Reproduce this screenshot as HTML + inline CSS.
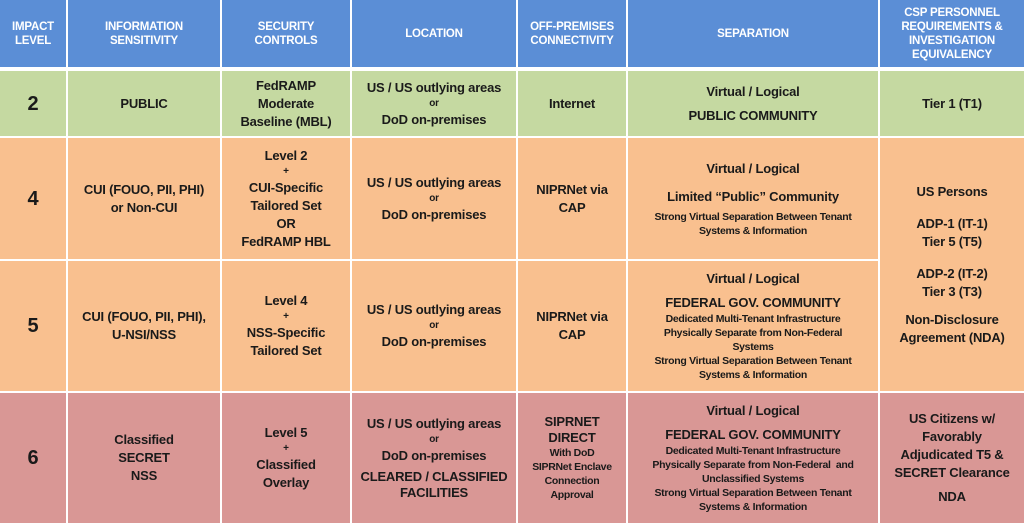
<!DOCTYPE html>
<html><head><meta charset="utf-8"><style>
body{margin:0;width:1024px;height:523px;background:#fff;overflow:hidden;font-family:"Liberation Sans",sans-serif;font-weight:bold;color:#1a1a1a}
.c{position:absolute;display:flex;flex-direction:column;align-items:center;justify-content:center;text-align:center;box-sizing:border-box;font-size:13px;line-height:18px;letter-spacing:-0.2px}
.h{background:#5b8ed6;color:#fff;font-size:11.5px;line-height:14px}
.g{background:#c5d9a1}
.o{background:#f9c08f}
.p{background:#d99795}
.s{font-size:10.5px;line-height:14px;letter-spacing:-0.3px}
.n{font-size:20px}
.sm{font-size:10px;line-height:14px}
</style></head><body>
<div class="c h" style="left:0;top:0;width:66px;height:67px">IMPACT<br>LEVEL</div>
<div class="c h" style="left:68px;top:0;width:152px;height:67px">INFORMATION<br>SENSITIVITY</div>
<div class="c h" style="left:222px;top:0;width:128px;height:67px">SECURITY<br>CONTROLS</div>
<div class="c h" style="left:352px;top:0;width:164px;height:67px">LOCATION</div>
<div class="c h" style="left:518px;top:0;width:108px;height:67px">OFF-PREMISES<br>CONNECTIVITY</div>
<div class="c h" style="left:628px;top:0;width:250px;height:67px">SEPARATION</div>
<div class="c h" style="left:880px;top:0;width:144px;height:67px">CSP PERSONNEL<br>REQUIREMENTS &amp;<br>INVESTIGATION<br>EQUIVALENCY</div>
<div class="c g n" style="left:0;top:71px;width:66px;height:65px">2</div>
<div class="c g" style="left:68px;top:71px;width:152px;height:65px">PUBLIC</div>
<div class="c g" style="left:222px;top:71px;width:128px;height:65px">FedRAMP<br>Moderate<br>Baseline (MBL)</div>
<div class="c g" style="left:352px;top:71px;width:164px;height:65px">US / US outlying areas<div class="sm">or</div>DoD on-premises</div>
<div class="c g" style="left:518px;top:71px;width:108px;height:65px">Internet</div>
<div class="c g" style="left:628px;top:71px;width:250px;height:65px">Virtual / Logical<div style="height:6px"></div>PUBLIC COMMUNITY</div>
<div class="c g" style="left:880px;top:71px;width:144px;height:65px">Tier 1 (T1)</div>
<div class="c o n" style="left:0;top:138px;width:66px;height:121px">4</div>
<div class="c o" style="left:68px;top:138px;width:152px;height:121px">CUI (FOUO, PII, PHI)<br>or Non-CUI</div>
<div class="c o" style="left:222px;top:138px;width:128px;height:121px">Level 2<div class="sm">+</div>CUI-Specific<br>Tailored Set<br>OR<br>FedRAMP HBL</div>
<div class="c o" style="left:352px;top:138px;width:164px;height:121px">US / US outlying areas<div class="sm">or</div>DoD on-premises</div>
<div class="c o" style="left:518px;top:138px;width:108px;height:121px">NIPRNet via<br>CAP</div>
<div class="c o" style="left:628px;top:138px;width:250px;height:121px">Virtual / Logical<div style="height:10px"></div>Limited “Public” Community<div style="height:4px"></div><div class="s">Strong Virtual Separation Between Tenant<br>Systems &amp; Information</div></div>
<div class="c o n" style="left:0;top:261px;width:66px;height:130px">5</div>
<div class="c o" style="left:68px;top:261px;width:152px;height:130px">CUI (FOUO, PII, PHI),<br>U-NSI/NSS</div>
<div class="c o" style="left:222px;top:261px;width:128px;height:130px">Level 4<div class="sm">+</div>NSS-Specific<br>Tailored Set</div>
<div class="c o" style="left:352px;top:261px;width:164px;height:130px">US / US outlying areas<div class="sm">or</div>DoD on-premises</div>
<div class="c o" style="left:518px;top:261px;width:108px;height:130px">NIPRNet via<br>CAP</div>
<div class="c o" style="left:628px;top:261px;width:250px;height:130px">Virtual / Logical<div style="height:6px"></div>FEDERAL GOV. COMMUNITY<div class="s">Dedicated Multi-Tenant Infrastructure<br>Physically Separate from Non-Federal<br>Systems<br>Strong Virtual Separation Between Tenant<br>Systems &amp; Information</div></div>
<div class="c o" style="left:880px;top:138px;width:144px;height:253px">US Persons<div style="height:14px"></div>ADP-1 (IT-1)<br>Tier 5 (T5)<div style="height:14px"></div>ADP-2 (IT-2)<br>Tier 3 (T3)<div style="height:10px"></div>Non-Disclosure<br>Agreement (NDA)</div>
<div class="c p n" style="left:0;top:393px;width:66px;height:130px">6</div>
<div class="c p" style="left:68px;top:393px;width:152px;height:130px">Classified<br>SECRET<br>NSS</div>
<div class="c p" style="left:222px;top:393px;width:128px;height:130px">Level 5<div class="sm">+</div>Classified<br>Overlay</div>
<div class="c p" style="left:352px;top:393px;width:164px;height:130px">US / US outlying areas<div class="sm">or</div>DoD on-premises<div style="height:4px"></div><div style="line-height:16px">CLEARED / CLASSIFIED<br>FACILITIES</div></div>
<div class="c p" style="left:518px;top:393px;width:108px;height:130px"><div style="line-height:16px">SIPRNET<br>DIRECT</div><div class="s">With DoD<br>SIPRNet Enclave<br>Connection<br>Approval</div></div>
<div class="c p" style="left:628px;top:393px;width:250px;height:130px">Virtual / Logical<div style="height:6px"></div>FEDERAL GOV. COMMUNITY<div class="s">Dedicated Multi-Tenant Infrastructure<br>Physically Separate from Non-Federal &nbsp;and<br>Unclassified Systems<br>Strong Virtual Separation Between Tenant<br>Systems &amp; Information</div></div>
<div class="c p" style="left:880px;top:393px;width:144px;height:130px">US Citizens w/<br>Favorably<br>Adjudicated T5 &amp;<br>SECRET Clearance<div style="height:6px"></div>NDA</div>
</body></html>
